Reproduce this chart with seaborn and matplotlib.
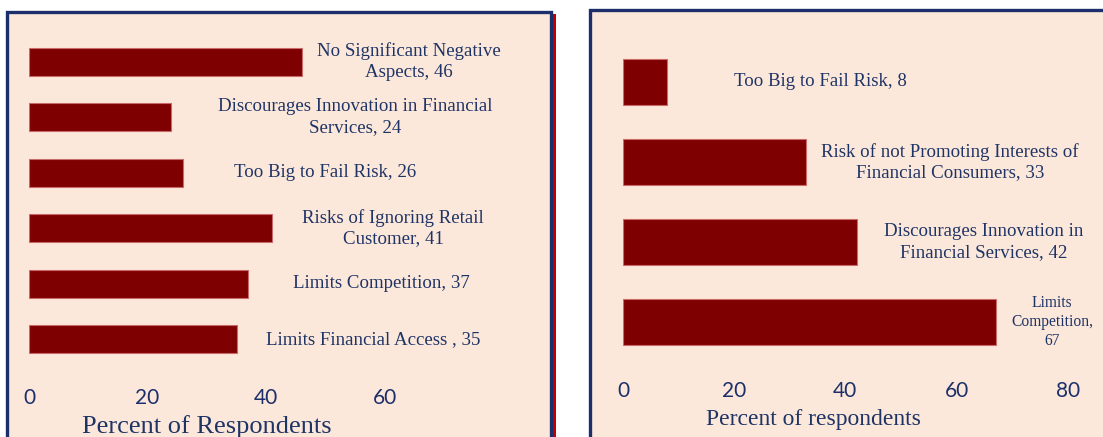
import matplotlib
matplotlib.use("Agg")
import matplotlib.pyplot as plt
import seaborn as sns
import pandas as pd
from matplotlib.patches import Rectangle

# ---------------- data ----------------
left_categories = [
    "No Significant Negative\nAspects, 46",
    "Discourages Innovation in Financial\nServices, 24",
    "Too Big to Fail Risk, 26",
    "Risks of Ignoring Retail\nCustomer, 41",
    "Limits Competition, 37",
    "Limits Financial Access , 35",
]
left_values = [46, 24, 26, 41, 37, 35]
left_ticks = [0, 20, 40, 60]
left_xlabel = "Percent of Respondents"

right_categories = [
    "Too Big to Fail Risk, 8",
    "Risk of not Promoting Interests of\nFinancial Consumers, 33",
    "Discourages Innovation in\nFinancial Services, 42",
    "Limits\nCompetition,\n67",
]
right_values = [8, 33, 42, 67]
right_ticks = [0, 20, 40, 60, 80]
right_xlabel = "Percent of respondents"

# label centre positions (x in data units) – styling
left_label_x = [64.1, 55.0, 49.9, 61.4, 59.5, 58.0]
right_label_x = [35.6, 58.8, 64.9, 77.2]
right_label_size = [13.6, 13.6, 13.6, 11.2]

# ---------------- style ----------------
W, H = 1103, 437
DPI = 100
PEACH = "#FCE8DA"
NAVY = "#1C2F6B"
TEXT_NAVY = "#1F3466"
BAR = "#7F0000"
BAR_EDGE = "#C86A6A"
SERIF = ["Liberation Serif", "DejaVu Serif"]
SANS = ["Lato", "DejaVu Sans"]

sns.set_theme(style="white")
plt.rcParams["font.family"] = SERIF

fig = plt.figure(figsize=(W / DPI, H / DPI), dpi=DPI)
fig.patch.set_facecolor("white")


def fx(px):
    return px / W


def fy(py):
    return 1 - py / H


# panel backgrounds / frames (behind the axes)
fig.patches.append(Rectangle((fx(550), fy(H + 5)), fx(6), fy(14) - fy(H + 5),
                             transform=fig.transFigure, facecolor="#C00000",
                             edgecolor="none", zorder=-3))
fig.patches.append(Rectangle((fx(7), fy(H + 5)), fx(551 - 7), fy(12) - fy(H + 5),
                             transform=fig.transFigure, facecolor=PEACH,
                             edgecolor=NAVY, linewidth=2.4, zorder=-2))
fig.patches.append(Rectangle((fx(590), fy(H + 5)), fx(W + 10 - 590), fy(10) - fy(H + 5),
                             transform=fig.transFigure, facecolor=PEACH,
                             edgecolor=NAVY, linewidth=2.4, zorder=-2))


def panel(ax_px, categories, values, ticks, xlim, xlabel, label_xy_coords,
          label_x, label_sizes, bar_h, tick_pad, xlabel_size):
    x0, y0, x1, y1 = ax_px
    ax = fig.add_axes([fx(x0), fy(y1), fx(x1 - x0), fy(y0) - fy(y1)])
    ax.set_facecolor("none")
    df = pd.DataFrame({"cat": categories, "val": values})
    sns.barplot(data=df, x="val", y="cat", orient="h", color=BAR,
                saturation=1, width=bar_h, edgecolor=BAR_EDGE, linewidth=0.8, ax=ax)
    ax.set_xlim(*xlim)
    ax.set_ylim(len(categories) - 0.5, -0.5)
    ax.set_xticks(ticks)
    ax.set_xticklabels([str(t) for t in ticks], fontfamily=SANS, fontsize=15,
                       color=NAVY)
    ax.set_yticks([])
    ax.set_ylabel("")
    ax.tick_params(axis="x", length=0, pad=tick_pad)
    for s in ax.spines.values():
        s.set_visible(False)
    ax.set_xlabel(xlabel, fontsize=xlabel_size, color=TEXT_NAVY, fontfamily=SERIF)
    ax.xaxis.label.set_verticalalignment("center")
    ax.xaxis.set_label_coords(*label_xy_coords)
    for i, (cat, lx, fs) in enumerate(zip(categories, label_x, label_sizes)):
        ax.text(lx, i, cat, ha="center", va="center", fontsize=fs,
                color=TEXT_NAVY, fontfamily=SERIF, linespacing=1.28,
                multialignment="center")
    return ax


# left panel: 0 at x=29px, 5.93 px/unit; bars y 34..367
panel((29, 34, 551, 367), left_categories, left_values, left_ticks,
      (0, (551 - 29) / 5.93), left_xlabel,
      ((207 - 29) / (551 - 29), (367 - 427) / (367 - 34)),
      left_label_x, [13.6] * len(left_categories), 0.5, 15, 19)

# right panel: 0 at x=623px, 5.56 px/unit; bars y 42..362
panel((623, 42, W, 362), right_categories, right_values, right_ticks,
      (0, (W - 623) / 5.56), right_xlabel,
      ((813 - 623) / (W - 623), (362 - 419) / (362 - 42)),
      right_label_x, right_label_size, 0.575, 14, 17)

fig.savefig("out.png", dpi=DPI, facecolor=fig.get_facecolor())
